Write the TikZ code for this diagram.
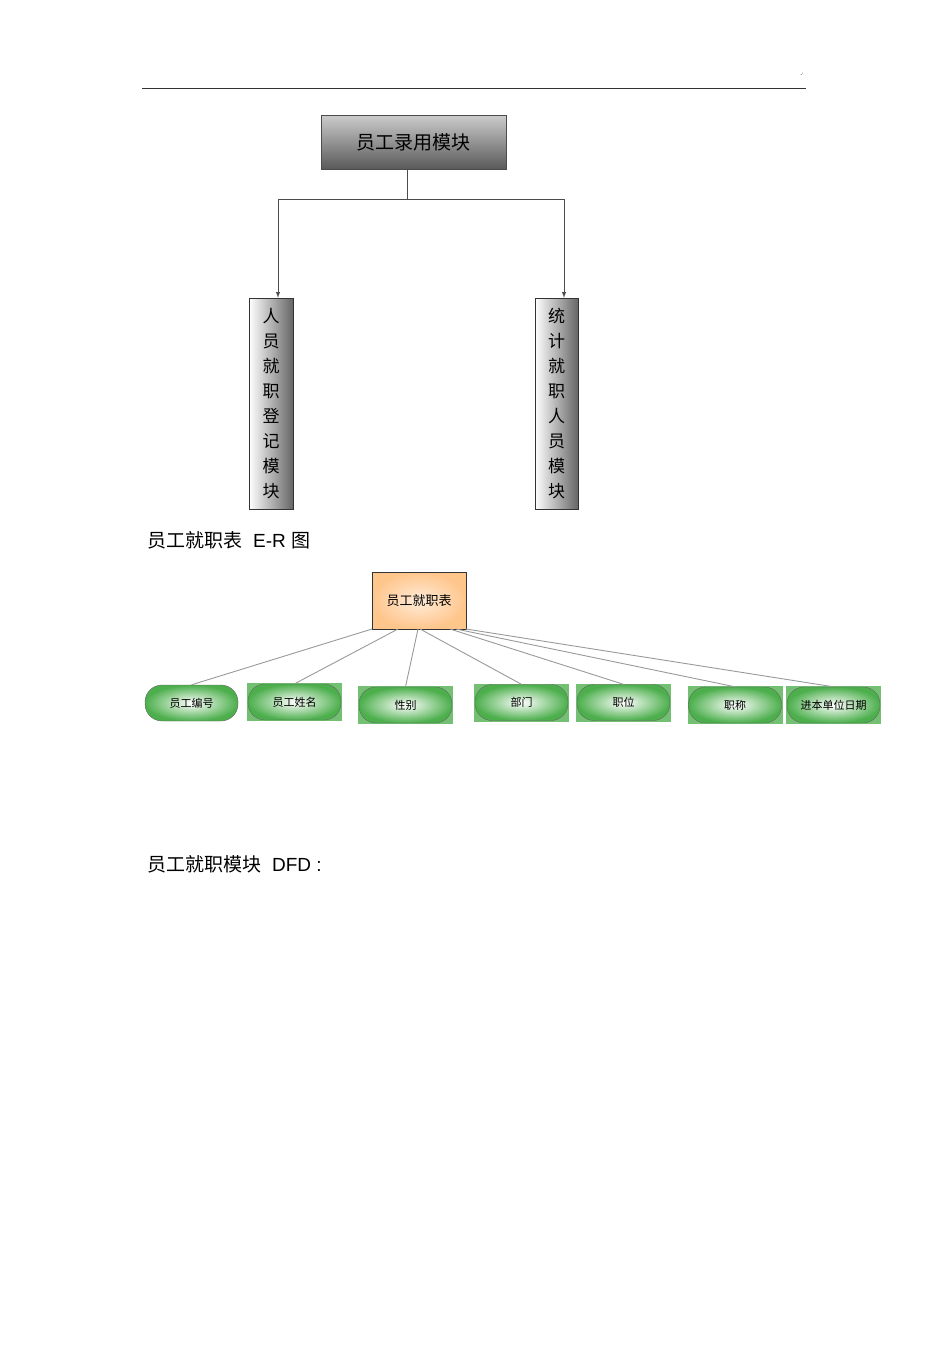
\documentclass[tikz,border=0pt]{standalone}
\usepackage{fontspec}
\setmainfont{Liberation Sans}
\newfontfamily\cjk{Noto Sans CJK SC}
\begin{document}
\begin{tikzpicture}[x=1pt,y=-1pt,
  attr/.style={draw=black!60,rounded corners=17pt,inner color=white,outer color=green!55!black!70,minimum width=93pt,minimum height=36pt,font=\cjk\fontsize{11}{11}\selectfont},
  sq/.style={fill=green!55!black!55,draw=none,minimum width=95pt,minimum height=38pt},
  link/.style={draw=black!40,line width=0.9pt}]
\useasboundingbox (0,0) rectangle (950,1345);
\draw[black!80] (142,88) -- (806,88);
\node at (802,75) {\tiny -`};
\node[draw=black!70,top color=black!20,bottom color=black!65,minimum width=185pt,minimum height=54pt,font=\cjk\fontsize{19}{19}\selectfont] (top) at (413.5,142) {员工录用模块};
\node[draw=black!80,left color=white,right color=black!60,minimum width=44pt,minimum height=211pt,align=center,font=\cjk\fontsize{17}{25}\selectfont] (l) at (271,403.5) {人\\员\\就\\职\\登\\记\\模\\块};
\node[draw=black!80,left color=white,right color=black!60,minimum width=43pt,minimum height=211pt,align=center,font=\cjk\fontsize{17}{25}\selectfont] (r) at (556.5,403.5) {统\\计\\就\\职\\人\\员\\模\\块};
\coordinate (j) at (407,199);
\draw[black!70,line width=1pt] (407,169) -- (j);
\draw[black!70,line width=1pt,-latex] (j) -| (l.north -| 278,0);
\draw[black!70,line width=1pt,-latex] (j) -| (r.north -| 564,0);
\node[anchor=base west,font=\fontsize{19}{19}\selectfont] (t1) at (144,547) {{\cjk 员工就职表}\ \ E-R {\cjk 图}};
\node[draw=black!80,inner color=orange!15,outer color=orange!45,minimum width=94pt,minimum height=57pt,font=\cjk\fontsize{13}{13}\selectfont] (e) at (419,600.5) {员工就职表};
\node[attr] (a1) at (191.5,703) {员工编号};
\node[sq] at (294.5,702) {}; \node[attr] (a2) at (294.5,702) {员工姓名};
\node[sq] at (405.5,705) {}; \node[attr] (a3) at (405.5,705) {性别};
\node[sq] at (521.5,702.5) {}; \node[attr] (a4) at (521.5,702.5) {部门};
\node[sq] at (623.5,702.5) {}; \node[attr] (a5) at (623.5,702.5) {职位};
\node[sq] at (735,705) {}; \node[attr] (a6) at (735,705) {职称};
\node[sq] at (833.5,705) {}; \node[attr] (a7) at (833.5,705) {进本单位日期};
\draw[link] (372,629) -- (a1.north);
\draw[link] (398,629) -- (a2.north);
\draw[link] (418,629) -- (a3.north);
\draw[link] (420,629) -- (a4.north);
\draw[link] (450,629) -- (a5.north);
\draw[link] (456,629) -- (a6.north);
\draw[link] (466,629) -- (a7.north);
\node[anchor=base west,font=\fontsize{19}{19}\selectfont] (t2) at (144,871) {{\cjk 员工就职模块}\ \ DFD :};
\end{tikzpicture}
\end{document}
